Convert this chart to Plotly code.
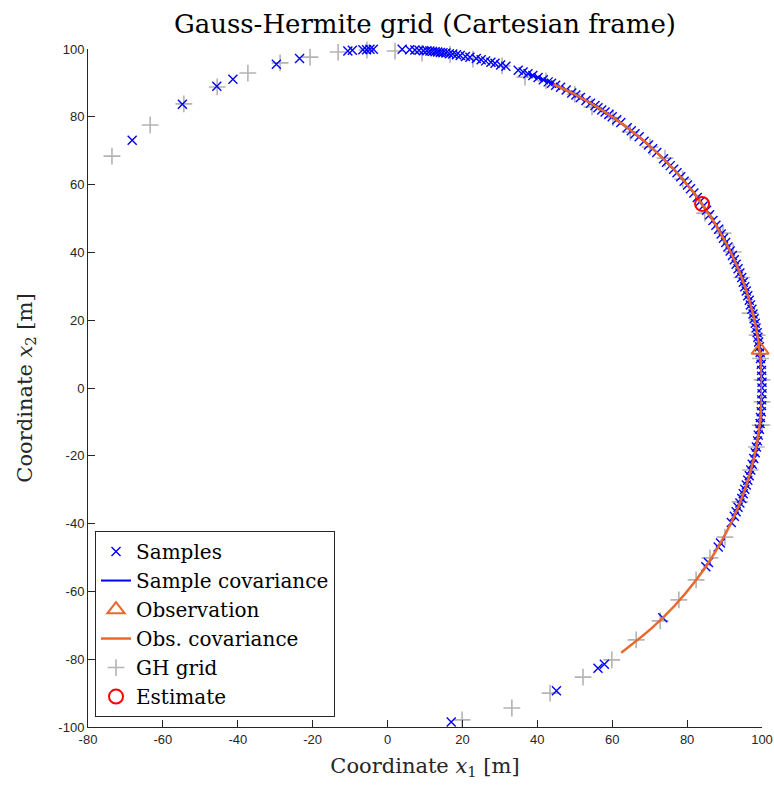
import plotly.graph_objects as go

# ---------------- data ----------------
sample_x = [-68.2, -54.8, -45.6, -41.3, -29.7, -23.5, -10.6, -9.4, -6.6, -5.6, -4.7, -3.8, 3.9,
            5.9, 7.3, 8.4, 9.6, 10.5, 11.3, 12.0, 12.7, 13.4, 14.1, 14.8, 15.6, 16.5, 17.4, 18.4,
            19.4, 20.8, 22.0, 23.7, 25.0, 26.2, 27.6, 28.7, 30.2, 31.6, 34.9, 36.2, 37.5, 38.8,
            40.2, 41.6, 42.9, 43.8, 44.9, 46.2, 47.7, 49.2, 50.3, 51.5, 53.0, 54.2, 55.4, 56.2,
            57.2, 58.1, 59.1, 60.0, 61.2, 62.3, 64.0, 65.1, 66.1, 67.2, 68.5, 69.7, 70.8, 71.9,
            73.7, 74.5, 75.5, 76.4, 77.3, 78.3, 79.2, 80.1, 80.9, 81.8, 82.7, 83.5, 84.3, 85.2,
            86.0, 86.9, 87.7, 88.4, 89.1, 89.7, 90.3, 90.9, 91.5, 92.1, 92.6, 93.1, 93.6, 94.1,
            94.6, 95.0, 95.4, 95.8, 96.2, 96.6, 96.9, 97.3, 97.6, 97.9, 98.2, 98.4, 98.7, 98.9,
            99.1, 99.3, 99.5, 99.6, 99.8, 99.9, 99.9, 100.0, 100.0, 100.0, 99.9, 99.9, 99.8,
            99.6, 99.5, 99.3, 99.0, 98.8, 98.5, 98.2, 97.8, 97.4, 97.0, 96.6, 96.2, 95.8, 95.4,
            95.0, 94.6, 94.1, 93.6, 93.1, 92.6, 91.8, 88.9, 88.3, 85.7, 85.0, 73.5, 57.9, 56.2,
            45.1, 17.0]
sample_y = [73.1, 83.7, 89.0, 91.1, 95.5, 97.2, 99.4, 99.6, 99.8, 99.8, 99.9, 99.9, 99.9,
            99.8, 99.7, 99.6, 99.5, 99.5, 99.4, 99.3, 99.2, 99.1, 99.0, 98.9, 98.8, 98.6, 98.5, 98.3,
            98.1, 97.8, 97.6, 97.2, 96.8, 96.5, 96.1, 95.8, 95.3, 94.9, 93.7, 93.2, 92.7, 92.2,
            91.6, 90.9, 90.3, 89.9, 89.3, 88.7, 87.9, 87.0, 86.4, 85.7, 84.8, 84.0, 83.3, 82.7,
            82.0, 81.4, 80.7, 80.0, 79.1, 78.3, 76.8, 75.9, 75.0, 74.1, 72.8, 71.7, 70.6, 69.5,
            67.6, 66.6, 65.6, 64.5, 63.5, 62.3, 61.0, 59.9, 58.8, 57.5, 56.2, 55.0, 53.7, 52.4,
            51.1, 49.4, 48.0, 46.8, 45.4, 44.2, 42.9, 41.6, 40.4, 39.1, 37.8, 36.5, 35.2, 33.9,
            32.6, 31.2, 29.9, 28.6, 27.2, 25.9, 24.5, 23.2, 21.8, 20.4, 19.1, 17.7, 16.3, 15.0,
            13.6, 12.2, 10.5, 8.7, 7.0, 5.2, 3.5, 1.7, 0.0, -1.7, -3.5, -5.2, -7.0,
            -8.7, -10.5, -12.2, -13.9, -15.6, -17.4, -19.1, -20.8, -22.5, -24.2, -25.9, -27.2, -28.6, -29.9,
            -31.2, -32.6, -33.9, -35.2, -36.5, -37.8, -39.7, -45.7, -46.9, -51.5, -52.7, -67.8, -81.5, -82.7,
            -89.3, -98.5]

samp_cov_x = [37.5, 43.8, 50.0, 57.4, 64.3, 70.7, 76.6, 81.9, 86.6, 90.6, 94.0, 96.6, 98.5, 99.6,
              100.0, 99.6, 98.5, 96.6, 94.0, 91.4]
samp_cov_y = [92.7, 89.9, 86.6, 81.9, 76.6, 70.7, 64.3, 57.4, 50.0, 42.3, 34.2, 25.9, 17.4, 8.7,
              0.0, -8.7, -17.4, -25.9, -34.2, -40.7]

obs_x = [99.5]
obs_y = [11.2]

obs_cov_x = [44.3, 50.0, 57.4, 64.3, 70.7, 76.6, 81.9, 86.6, 90.6, 94.0, 96.6, 98.5, 99.6, 100.0,
             99.6, 98.5, 96.6, 94.0, 90.6, 86.6, 81.9, 76.6, 70.7, 62.4]
obs_cov_y = [89.6, 86.6, 81.9, 76.6, 70.7, 64.3, 57.4, 50.0, 42.3, 34.2, 25.9, 17.4, 8.7, 0.0,
             -8.7, -17.4, -25.9, -34.2, -42.3, -50.0, -57.4, -64.3, -70.7, -78.1]

gh_x = [-73.6, -63.4, -54.4, -45.5, -37.3, -28.7, -20.7, -13.2, -5.5, 2.0, 9.2, 16.7, 22.8, 30.6,
        36.7, 42.3, 50.0, 54.6, 60.2, 64.8, 70.1, 74.1, 78.8, 84.7, 89.6, 92.3, 94.6, 96.8, 98.7,
        99.6, 100.0, 100.0, 100.0, 99.5, 98.5, 96.9, 94.1, 90.1, 86.1, 82.4, 77.8, 72.8, 66.4,
        59.9, 52.2, 43.4, 33.2, 19.9]
gh_y = [68.4, 77.6, 83.8, 88.8, 92.9, 95.9, 97.6, 99.1, 99.7, 99.4, 98.8, 98.4, 97.0, 95.0,
        91.7, 90.6, 86.6, 82.9, 79.8, 75.5, 71.1, 67.8, 61.6, 51.6, 45.7, 40.1, 32.6, 22.1, 15.6,
        8.7, 2.4, -4.1, -10.9, -11.0, -17.4, -24.2, -33.6, -44.0, -50.1, -56.6, -62.5, -68.7, -74.3,
        -80.2, -85.3, -90.0, -94.4, -97.9]

est_x = [84.0]
est_y = [54.3]

x_ticks = [-80, -60, -40, -20, 0, 20, 40, 60, 80, 100]
y_ticks = [-100, -80, -60, -40, -20, 0, 20, 40, 60, 80, 100]

# ---------------- styles ----------------
BLUE = "#0000FF"
ORANGE = "#E8692B"
GRAY = "#B4B4B4"
RED = "#FF0000"
AX = "#262626"
SERIF = "DejaVu Serif, Liberation Serif, serif"
SANS = "Liberation Sans, Arial, sans-serif"

fig = go.Figure()

fig.add_trace(go.Scatter(x=gh_x, y=gh_y, mode="markers", name="GH grid", legendrank=5,
                         cliponaxis=False,
                         marker=dict(symbol="cross-thin", size=12, color=GRAY,
                                     line=dict(color=GRAY, width=1.6))))
fig.add_trace(go.Scatter(x=sample_x, y=sample_y, mode="markers", name="Samples", legendrank=1,
                         cliponaxis=False,
                         marker=dict(symbol="x-thin", size=9, color=BLUE,
                                     line=dict(color=BLUE, width=1.4))))
fig.add_trace(go.Scatter(x=samp_cov_x, y=samp_cov_y, mode="lines", name="Sample covariance",
                         legendrank=2, cliponaxis=False,
                         line=dict(color=BLUE, width=2, shape="spline")))
fig.add_trace(go.Scatter(x=obs_cov_x, y=obs_cov_y, mode="lines", name="Obs. covariance",
                         legendrank=4, cliponaxis=False,
                         line=dict(color=ORANGE, width=2.5, shape="spline")))
fig.add_trace(go.Scatter(x=obs_x, y=obs_y, mode="markers", name="Observation", legendrank=3,
                         cliponaxis=False,
                         marker=dict(symbol="triangle-up-open", size=15, color=ORANGE,
                                     line=dict(color=ORANGE, width=2))))
fig.add_trace(go.Scatter(x=est_x, y=est_y, mode="markers", name="Estimate", legendrank=6,
                         cliponaxis=False,
                         marker=dict(symbol="circle-open", size=14, color=RED,
                                     line=dict(color=RED, width=2))))

axis_common = dict(showgrid=False, zeroline=False, showline=True, linecolor=AX, linewidth=1,
                   ticks="inside", ticklen=7, tickwidth=1, tickcolor=AX, automargin=False,
                   tickfont=dict(family=SANS, size=13, color=AX), mirror=False)

fig.update_layout(
    width=774, height=785,
    margin=dict(l=88, r=12, t=49, b=58),
    paper_bgcolor="white", plot_bgcolor="white",
    title=dict(text="Gauss-Hermite grid (Cartesian frame)", x=0.549, xanchor="center",
               y=0.969, yanchor="middle", font=dict(family=SERIF, size=26, color="black")),
    xaxis=dict(range=[-80, 100], tickvals=x_ticks, ticktext=[str(v) for v in x_ticks],
               title=dict(text="Coordinate <i>x</i><sub>1</sub> [m]", standoff=12,
                          font=dict(family=SERIF, size=21, color=AX)), **axis_common),
    yaxis=dict(range=[-100, 100], tickvals=y_ticks, ticktext=[str(v) for v in y_ticks],
               title=dict(text="Coordinate <i>x</i><sub>2</sub> [m]", standoff=20,
                          font=dict(family=SERIF, size=21, color=AX)), **axis_common),
    legend=dict(x=0.0104, y=0.0147, xanchor="left", yanchor="bottom",
                bgcolor="white", bordercolor=AX, borderwidth=1,
                font=dict(family=SERIF, size=20, color="black"),
                itemwidth=30, tracegroupgap=0),
    showlegend=True,
)

fig.write_html("out.html")
